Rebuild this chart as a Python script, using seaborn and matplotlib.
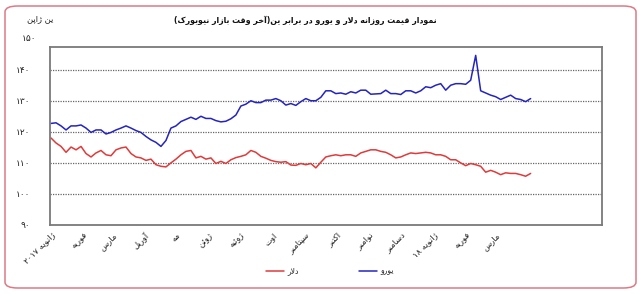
import re
import numpy as np
import pandas as pd
import matplotlib
matplotlib.use("Agg")
import matplotlib.pyplot as plt
import matplotlib.transforms as mtransforms
from matplotlib.patches import FancyBboxPatch
import seaborn as sns

# ---------------- data ----------------
title_text = "نمودار قیمت روزانه دلار و یورو در برابر ین(آخر وقت بازار نیویورک)"
unit_text = "ین ژاپن"
series_names = ["دلار", "یورو"]
month_labels = ["ژانویه ۲۰۱۷", "فوریه", "مارس", "آوریل", "مه", "ژوئن", "ژوئیه", "اوت",
                "سپتامبر", "اکتبر", "نوامبر", "دسامبر", "ژانویه ۱۸", "فوریه", "مارس"]
ytick_values = [90, 100, 110, 120, 130, 140, 150]
ytick_labels = ["۹۰", "۱۰۰", "۱۱۰", "۱۲۰", "۱۳۰", "۱۴۰", "۱۵۰"]

euro_values = [
    122.7, 122.9, 121.9, 120.6, 121.9, 121.9, 122.2, 121.2, 119.8, 120.6,
    120.6, 119.3, 119.8, 120.6, 121.2, 121.9, 121.2, 120.4, 119.8, 118.5,
    117.4, 116.6, 115.3, 117.2, 121.2, 121.9, 123.3, 124.0, 124.7, 124.0,
    125.0, 124.3, 124.3, 123.6, 123.2, 123.4, 124.2, 125.4, 128.3, 128.9,
    130.0, 129.4, 129.4, 130.2, 130.2, 130.7, 130.0, 128.6, 129.1, 128.5,
    129.7, 130.7, 130.0, 130.0, 131.1,
    133.2, 133.2, 132.3, 132.5, 132.1, 132.9, 132.5, 133.4, 133.4, 132.1,
    132.2, 132.3, 133.4, 132.3, 132.3, 132.0, 133.2, 133.2, 132.5, 133.2,
    134.5, 134.2, 135.0, 135.5, 133.4, 135.0, 135.5, 135.5, 135.3, 136.6,
    144.6, 133.2, 132.5, 131.8, 131.3, 130.4, 131.1, 131.8, 130.7, 130.4,
    129.7, 130.7,
]
dollar_values = [
    118.0, 116.4, 115.3, 113.4, 115.1, 114.2, 115.3, 113.0, 111.9, 113.2,
    114.0, 112.6, 112.3, 114.2, 114.8, 115.1, 113.0, 111.9, 111.6, 110.8,
    111.2, 109.4, 108.9, 108.7, 110.0, 111.2, 112.6, 113.7, 114.0, 111.6,
    112.1, 111.2, 111.6, 109.8, 110.5, 109.8, 111.0, 111.7, 112.1, 112.6,
    114.0, 113.4, 112.1, 111.5, 110.8, 110.4, 110.2, 110.4, 109.3, 109.2,
    109.8, 109.4, 109.8, 108.4, 110.2,
    111.9, 112.3, 112.6, 112.3, 112.6, 112.6, 112.1, 113.2, 113.7, 114.2,
    114.2, 113.7, 113.4, 112.6, 111.6, 111.9, 112.6, 113.2, 113.0, 113.2,
    113.4, 113.2, 112.6, 112.6, 112.1, 111.0, 111.0, 110.0, 109.1, 109.8,
    109.4, 108.9, 107.0, 107.6, 107.0, 106.2, 106.8, 106.6, 106.6, 106.2,
    105.7, 106.6,
]
start_date, end_date = "2017-01-02", "2018-04-04"

# ---------------- simple Persian shaping for display ----------------
DUAL = set("بتثجحخسشصضطظعغفقکگلمنهیئپچ")
RIGHT = set("اآدذرزژو")
FORMS = {
    'ا': ('\uFE8D', '\uFE8E'), 'آ': ('\uFE81', '\uFE82'),
    'د': ('\uFEA9', '\uFEAA'), 'ر': ('\uFEAD', '\uFEAE'),
    'ز': ('\uFEAF', '\uFEB0'), 'و': ('\uFEED', '\uFEEE'),
    'ژ': ('\uFB8A', '\uFB8B'),
    'ب': ('\uFE8F', '\uFE90', '\uFE91', '\uFE92'),
    'ت': ('\uFE95', '\uFE96', '\uFE97', '\uFE98'),
    'خ': ('\uFEA5', '\uFEA6', '\uFEA7', '\uFEA8'),
    'س': ('\uFEB1', '\uFEB2', '\uFEB3', '\uFEB4'),
    'ف': ('\uFED1', '\uFED2', '\uFED3', '\uFED4'),
    'ق': ('\uFED5', '\uFED6', '\uFED7', '\uFED8'),
    'ل': ('\uFEDD', '\uFEDE', '\uFEDF', '\uFEE0'),
    'م': ('\uFEE1', '\uFEE2', '\uFEE3', '\uFEE4'),
    'ن': ('\uFEE5', '\uFEE6', '\uFEE7', '\uFEE8'),
    'ه': ('\uFEE9', '\uFEEA', '\uFEEB', '\uFEEC'),
    'ئ': ('\uFE89', '\uFE8A', '\uFE8B', '\uFE8C'),
    'ی': ('\uFBFC', '\uFBFD', '\uFBFE', '\uFBFF'),
    'ک': ('\uFB8E', '\uFB8F', '\uFB90', '\uFB91'),
    'پ': ('\uFB56', '\uFB57', '\uFB58', '\uFB59'),
}


def shape(s):
    out, i, n = [], 0, len(s)
    while i < n:
        c = s[i]
        if c not in FORMS:
            out.append(c)
            i += 1
            continue
        prev = s[i - 1] if i > 0 else ''
        jp = prev in DUAL
        if c == 'ل' and i + 1 < n and s[i + 1] in 'اآ':
            if s[i + 1] == 'ا':
                out.append('\uFEFC' if jp else '\uFEFB')
            else:
                out.append('\uFEF6' if jp else '\uFEF5')
            i += 2
            continue
        nxt = s[i + 1] if i + 1 < n else ''
        jn = c in DUAL and (nxt in DUAL or nxt in RIGHT)
        f = FORMS[c]
        if jp and jn:
            g = f[3]
        elif jp:
            g = f[1]
        elif jn:
            g = f[2]
        else:
            g = f[0]
        out.append(g)
        i += 1
    return ''.join(out)


def fa(s):
    toks = re.findall(r'[0-9\u06F0-\u06F9]+|.', shape(s))[::-1]
    mirror = {'(': ')', ')': '('}
    return ''.join(mirror.get(t, t) for t in toks)


# ---------------- figure ----------------
sns.set_theme(style="white")
plt.rcParams['font.family'] = ['DejaVu Sans']

dates = pd.date_range(start_date, end_date, periods=len(euro_values))
df = pd.DataFrame({"date": dates, "euro": euro_values, "dollar": dollar_values})

fig = plt.figure(figsize=(6.4, 2.94), dpi=100)
ax = fig.add_axes([50 / 640, 1 - 225 / 294, 552 / 640, 178 / 294])

red = "#e03a3a"
blue = "#2424c0"
sns.lineplot(data=df, x="date", y="dollar", ax=ax, color=red, lw=1.1, label=fa(series_names[0]))
sns.lineplot(data=df, x="date", y="euro", ax=ax, color=blue, lw=1.1, label=fa(series_names[1]))

ax.set_ylim(90, 147.3)
ax.set_xlim(pd.Timestamp("2017-01-02"), pd.Timestamp("2018-06-11"))
ax.set_yticks(ytick_values[:-1])
ax.set_yticklabels(ytick_labels[:-1], fontsize=6.5, color="#222222")
ax.tick_params(axis='y', length=0, pad=14)
for v in ytick_values[1:-1]:
    ax.axhline(v, color="#666666", lw=0.9, ls=(0, (1, 1)), zorder=0)
ax.text(-14 / 552, ytick_values[-1], ytick_labels[-1], fontsize=6.5, color="#222222",
        transform=mtransforms.blended_transform_factory(ax.transAxes, ax.transData),
        ha="right", va="center", clip_on=False)

month_ticks = pd.date_range("2017-01-01", periods=len(month_labels), freq="MS")
ax.set_xticks(month_ticks)
ax.set_xticklabels([fa(m) for m in month_labels], rotation=45, ha="right",
                   rotation_mode="anchor", fontsize=6, color="#222222")
ax.tick_params(axis='x', length=0, pad=4)
ax.set_xlabel("")
ax.set_ylabel("")
for sp in ax.spines.values():
    sp.set_color("#7a7a7a")
    sp.set_linewidth(1.3)

leg = ax.get_legend()
if leg is not None:
    leg.remove()
handles, labels = ax.get_legend_handles_labels()
fig.legend(handles, labels, loc="center", bbox_to_anchor=(330 / 640, 1 - 271 / 294),
           ncol=2, frameon=False, fontsize=5.5, handlelength=2.3, columnspacing=8,
           handletextpad=0.4, markerfirst=True)

fig.text(305 / 640, 1 - 20 / 294, fa(title_text), ha="center", va="center",
         fontsize=5.7, fontweight="bold", color="#111111")
fig.text(40 / 640, 1 - 19 / 294, fa(unit_text), ha="center", va="center",
         fontsize=6, color="#222222")

border = FancyBboxPatch((5 / 640, 6 / 294), 631 / 640, 282 / 294,
                        boxstyle="round,pad=0,rounding_size=0.02",
                        transform=fig.transFigure, fill=False,
                        edgecolor="#dd7a86", lw=1.1)
fig.patches.append(border)

fig.savefig("out.png", dpi=100)
